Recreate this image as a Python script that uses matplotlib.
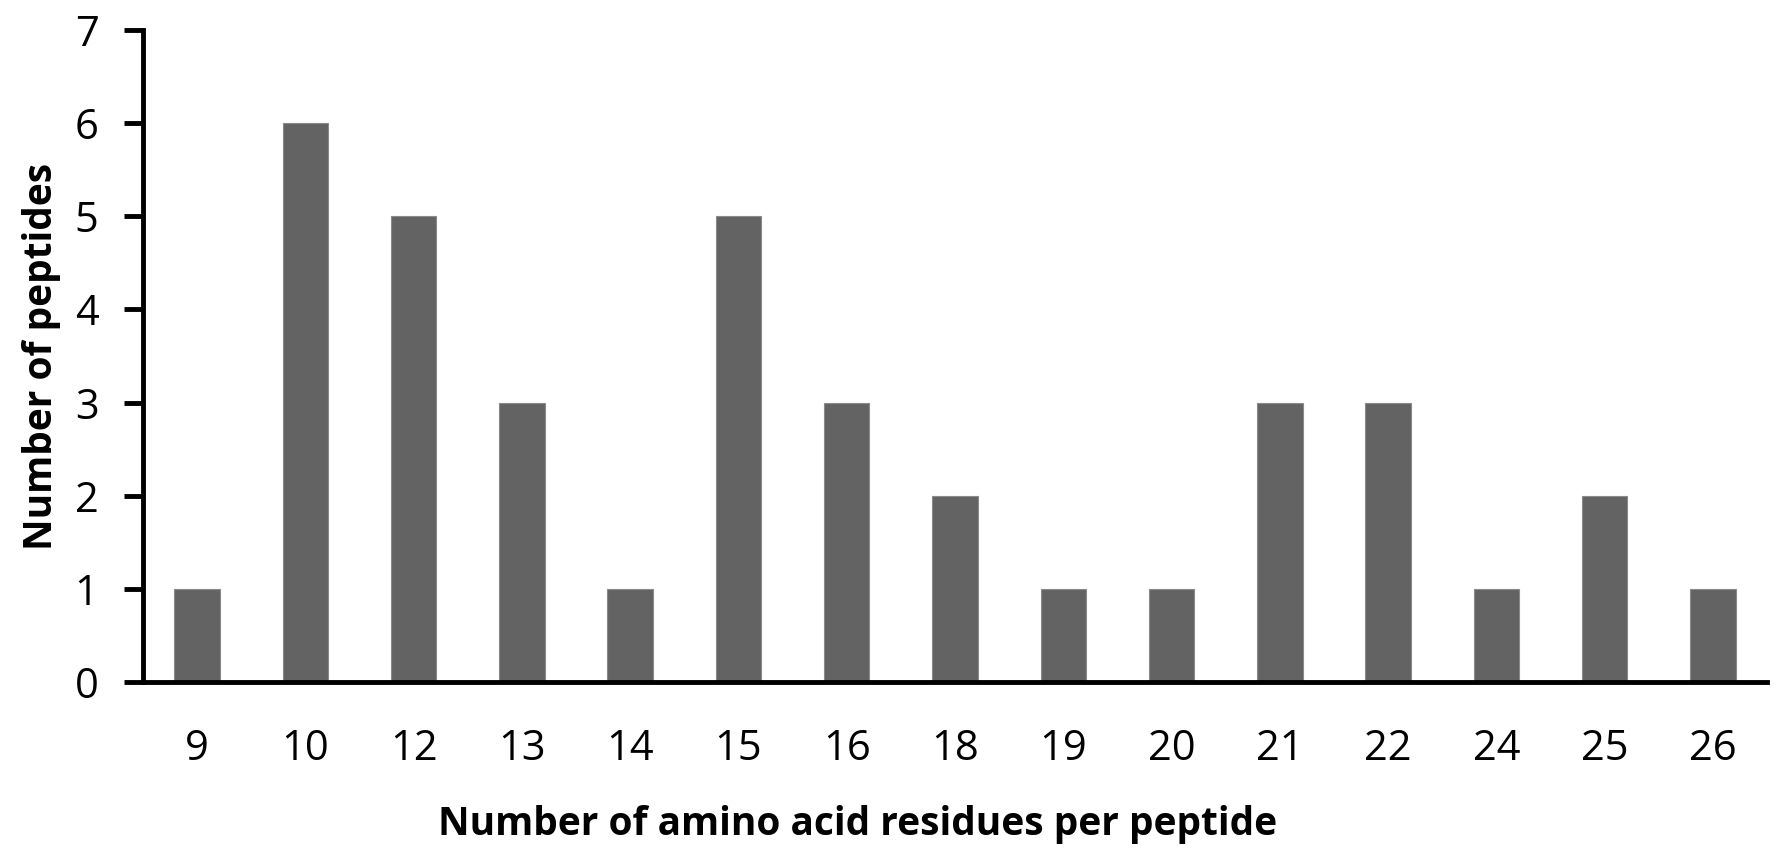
import matplotlib
matplotlib.use("Agg")
import matplotlib.pyplot as plt
import numpy as np

plt.rcParams['font.family'] = ['Open Sans', 'DejaVu Sans']

residues = ['9', '10', '12', '13', '14', '15', '16', '18', '19', '20',
            '21', '22', '24', '25', '26']
counts = [1, 6, 5, 3, 1, 5, 3, 2, 1, 1, 3, 3, 1, 2, 1]

fig = plt.figure(figsize=(17.88, 8.65), dpi=100)
ax = fig.add_axes([143 / 1788, 1 - 682 / 865, 1624 / 1788, 652 / 865])

x = np.arange(len(residues))
ax.bar(x, counts, width=0.42, color='#636363', edgecolor='#8a8a8a', linewidth=0.8)

ax.set_xlim(-0.5, len(residues) - 0.5)
ax.set_ylim(0, 7)
ax.set_xticks(x)
ax.set_xticklabels(residues)
ax.set_yticks(range(8))

for s in ['top', 'right']:
    ax.spines[s].set_visible(False)
ax.spines['left'].set_linewidth(3.5)
ax.spines['bottom'].set_linewidth(3.5)
ax.tick_params(axis='y', length=14, width=3.5, labelsize=30, pad=18)
ax.tick_params(axis='x', length=0, labelsize=30, pad=33)

ax.set_xlabel('Number of amino acid residues per peptide', fontsize=28,
              fontweight='bold')
ax.xaxis.set_label_coords(0.44, -0.188)
ax.set_ylabel('Number of peptides', fontsize=28, fontweight='bold', labelpad=10)

fig.savefig('out.png', dpi=100)
